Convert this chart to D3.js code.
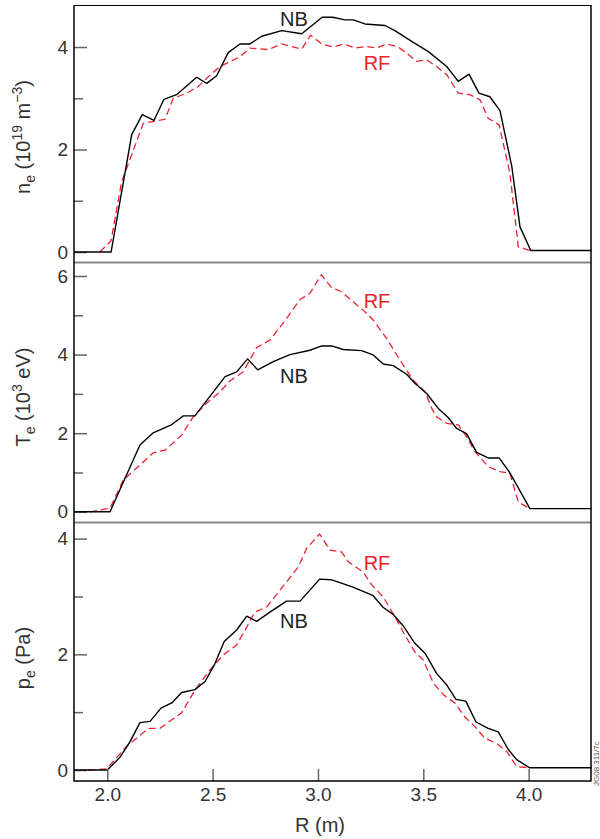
<!DOCTYPE html>
<html><head><meta charset="utf-8">
<script src="https://cdn.jsdelivr.net/npm/d3@7"></script>
<style>
html,body{margin:0;padding:0;background:#fff;}
svg{display:block;font-family:"Liberation Sans",Arial,Helvetica,sans-serif;}
</style></head>
<body><svg id="c" width="600" height="839"></svg>
<script>
// ---- data (R in m) ----
const neNB_R = [1.842,2.018,2.116,2.166,2.222,2.269,2.329,2.424,2.472,2.519,2.574,2.63,2.677,2.733,2.828,2.923,3.02,3.07,3.128,3.168,3.223,3.318,3.365,3.445,3.524,3.611,3.666,3.717,3.764,3.816,3.864,3.92,3.959,4.01,4.3];
const neNB   = [0,0,2.29,2.68,2.57,2.98,3.07,3.41,3.29,3.44,3.89,4.06,4.06,4.21,4.32,4.26,4.58,4.58,4.53,4.53,4.45,4.42,4.32,4.11,3.91,3.62,3.33,3.47,3.10,3.03,2.76,1.67,0.49,0.03,0.03];
const neRF_R = [1.965,2.018,2.068,2.171,2.274,2.313,2.377,2.432,2.472,2.535,2.63,2.677,2.764,2.828,2.923,2.965,3.018,3.073,3.12,3.176,3.231,3.279,3.326,3.381,3.421,3.468,3.516,3.563,3.611,3.666,3.721,3.769,3.808,3.86,3.911,3.951,4.006];
const neRF   = [0,0.22,1.37,2.51,2.59,3.0,3.10,3.23,3.39,3.62,3.81,3.98,3.95,4.06,3.96,4.23,4.06,4.0,4.06,3.98,4.01,3.98,4.06,4.0,3.88,3.72,3.75,3.62,3.46,3.10,3.07,2.97,2.61,2.48,1.54,0.10,0.03];

const TeNB_R = [1.842,2.013,2.155,2.218,2.306,2.361,2.416,2.559,2.614,2.666,2.714,2.788,2.867,2.962,3.018,3.065,3.12,3.207,3.262,3.31,3.357,3.421,3.46,3.516,3.571,3.618,3.658,3.705,3.753,3.808,3.86,3.911,4.006,4.3];
const TeNB   = [0,0,1.70,2.01,2.22,2.44,2.44,3.44,3.56,3.89,3.61,3.82,4.0,4.11,4.22,4.22,4.13,4.10,3.99,3.76,3.72,3.50,3.27,3.01,2.63,2.40,2.12,1.99,1.51,1.37,1.37,0.99,0.08,0.08];
const TeRF_R = [1.918,2.013,2.076,2.147,2.218,2.274,2.353,2.408,2.479,2.535,2.582,2.645,2.709,2.772,2.851,2.915,2.962,3.016,3.065,3.112,3.168,3.215,3.262,3.326,3.389,3.452,3.508,3.54,3.563,3.611,3.666,3.705,3.745,3.808,3.864,3.911,3.951,4.006];
const TeRF   = [0,0.09,0.81,1.15,1.50,1.57,1.95,2.42,2.80,3.05,3.33,3.56,4.18,4.37,4.92,5.40,5.56,6.03,5.70,5.60,5.34,5.13,4.88,4.41,3.86,3.35,3.05,2.63,2.42,2.25,2.21,1.91,1.53,1.15,1.02,0.98,0.25,0.08];

const peNB_R = [1.842,2.0,2.06,2.108,2.155,2.203,2.255,2.306,2.353,2.416,2.464,2.511,2.555,2.614,2.662,2.709,2.772,2.851,2.915,3.008,3.062,3.16,3.26,3.31,3.357,3.405,3.46,3.508,3.563,3.611,3.655,3.702,3.75,3.808,3.856,3.904,3.943,4.003,4.3];
const peNB   = [0,0,0.22,0.49,0.82,0.84,1.07,1.16,1.34,1.39,1.53,1.84,2.22,2.42,2.66,2.57,2.73,2.92,2.92,3.30,3.29,3.17,3.02,2.81,2.69,2.49,2.19,2.02,1.67,1.47,1.22,1.19,0.83,0.72,0.66,0.35,0.18,0.04,0.04];
const peRF_R = [1.91,1.997,2.092,2.195,2.25,2.353,2.416,2.487,2.551,2.614,2.662,2.701,2.757,2.82,2.907,2.946,3.008,3.057,3.112,3.144,3.215,3.255,3.31,3.365,3.413,3.46,3.5,3.548,3.596,3.65,3.697,3.745,3.792,3.848,3.896,3.943,3.998];
const peRF   = [0,0.02,0.41,0.72,0.72,0.99,1.38,1.73,1.99,2.16,2.47,2.73,2.82,3.11,3.51,3.83,4.08,3.80,3.77,3.60,3.42,3.20,2.99,2.65,2.33,2.04,1.90,1.50,1.30,1.16,0.92,0.75,0.55,0.46,0.32,0.06,0.04];

const xTicks = [2.0,2.5,3.0,3.5,4.0];
const neTicks = [0,2,4], neMinor = [1,3];
const TeTicks = [0,2,4,6], TeMinor = [1,3,5];
const peTicks = [0,2,4], peMinor = [1,3];
const seriesNames = ["NB","RF"];

// ---- layout ----
const svg = d3.select("#c");
const L = 74, Rr = 591;
const x = d3.scaleLinear().domain([1.842, 4.296]).range([L, Rr]);
const panels = [
  {top:5,   bot:262, dom:[-0.195,4.82], nb:[neNB_R,neNB], rf:[neRF_R,neRF], ticks:neTicks, minor:neMinor, cy:137, lbl:"ne",
   nbPos:[294,26], rfPos:[377,70]},
  {top:263, bot:522, dom:[-0.26,6.33], nb:[TeNB_R,TeNB], rf:[TeRF_R,TeRF], ticks:TeTicks, minor:TeMinor, cy:397, lbl:"Te",
   nbPos:[294,383], rfPos:[377,308]},
  {top:523, bot:781, dom:[-0.19,4.27], nb:[peNB_R,peNB], rf:[peRF_R,peRF], ticks:peTicks, minor:peMinor, cy:658, lbl:"pe",
   nbPos:[294,628], rfPos:[377,570]}
];
const RED = "#e8232f";

panels.forEach((p,i) => {
  const y = d3.scaleLinear().domain(p.dom).range([p.bot, p.top]);
  const g = svg.append("g");
  // major ticks
  const ax = g.append("g").attr("transform",`translate(${L},0)`)
    .call(d3.axisLeft(y).tickValues(p.ticks).tickSizeInner(-13).tickSizeOuter(0).tickPadding(6).tickFormat(d3.format("d")));
  ax.select(".domain").remove();
  ax.selectAll("line").attr("stroke","#666").attr("stroke-width",1.5);
  ax.selectAll("text").attr("font-size",19).attr("fill","#333").attr("font-family",'"Liberation Sans",Arial,sans-serif');
  const mi = g.append("g").attr("transform",`translate(${L},0)`)
    .call(d3.axisLeft(y).tickValues(p.minor).tickSizeInner(-9).tickSizeOuter(0).tickFormat(""));
  mi.select(".domain").remove();
  mi.selectAll("line").attr("stroke","#666").attr("stroke-width",1.5);

  const line = d3.line().x(d=>x(d[0])).y(d=>y(d[1]));
  const rfData = d3.zip(p.rf[0], p.rf[1]);
  const nbData = d3.zip(p.nb[0], p.nb[1]);
  g.append("path").attr("d", line(rfData)).attr("fill","none").attr("stroke",RED)
    .attr("stroke-width",1.3).attr("stroke-dasharray","7,4");
  g.append("path").attr("d", line(nbData)).attr("fill","none").attr("stroke","#000")
    .attr("stroke-width",1.4).attr("stroke-linejoin","round");

  g.append("text").attr("x",p.nbPos[0]).attr("y",p.nbPos[1]).attr("text-anchor","middle")
    .attr("font-size",20).attr("fill","#222").text(seriesNames[0]);
  g.append("text").attr("x",p.rfPos[0]).attr("y",p.rfPos[1]).attr("text-anchor","middle")
    .attr("font-size",20).attr("fill",RED).text(seriesNames[1]);

  // y title
  const t = svg.append("text").attr("transform",`translate(30,${p.cy}) rotate(-90)`)
    .attr("text-anchor","middle").attr("font-size",20).attr("fill","#333");
  if (i===0) {
    t.append("tspan").text("n");
    t.append("tspan").attr("font-size",14).attr("dy",5).text("e");
    t.append("tspan").attr("dy",-5).text(" (10");
    t.append("tspan").attr("font-size",14).attr("dy",-8).text("19");
    t.append("tspan").attr("dy",8).text(" m");
    t.append("tspan").attr("font-size",14).attr("dy",-8).text("\u22123");
    t.append("tspan").attr("dy",8).text(")");
  } else if (i===1) {
    t.append("tspan").text("T");
    t.append("tspan").attr("font-size",14).attr("dy",5).text("e");
    t.append("tspan").attr("dy",-5).text(" (10");
    t.append("tspan").attr("font-size",14).attr("dy",-8).text("3");
    t.append("tspan").attr("dy",8).text(" eV)");
  } else {
    t.append("tspan").text("p");
    t.append("tspan").attr("font-size",14).attr("dy",5).text("e");
    t.append("tspan").attr("dy",-5).text(" (Pa)");
  }
});

// x axis
const xa = svg.append("g").attr("transform",`translate(0,781)`)
  .call(d3.axisBottom(x).tickValues(xTicks).tickSizeInner(-12).tickSizeOuter(0).tickPadding(7).tickFormat(d3.format(".1f")));
xa.select(".domain").remove();
xa.selectAll("line").attr("stroke","#666").attr("stroke-width",1.5);
xa.selectAll("text").attr("font-size",19).attr("fill","#333").attr("font-family",'"Liberation Sans",Arial,sans-serif');
svg.append("text").attr("x",320).attr("y",832).attr("text-anchor","middle")
  .attr("font-size",20).attr("fill","#333").text("R (m)");

// frame
svg.append("line").attr("x1",L).attr("x2",Rr).attr("y1",5.5).attr("y2",5.5).attr("stroke","#000").attr("stroke-width",1.2);
svg.append("line").attr("x1",L).attr("x2",Rr).attr("y1",262.5).attr("y2",262.5).attr("stroke","#888").attr("stroke-width",2);
svg.append("line").attr("x1",L).attr("x2",Rr).attr("y1",522.5).attr("y2",522.5).attr("stroke","#888").attr("stroke-width",2);
svg.append("line").attr("x1",L).attr("x2",Rr).attr("y1",781).attr("y2",781).attr("stroke","#000").attr("stroke-width",1.5);
svg.append("line").attr("x1",L).attr("x2",L).attr("y1",5).attr("y2",781.5).attr("stroke","#000").attr("stroke-width",1.5);
svg.append("line").attr("x1",Rr).attr("x2",Rr).attr("y1",5).attr("y2",781.5).attr("stroke","#000").attr("stroke-width",1.5);

// figure id at right edge
svg.append("text").attr("transform","translate(599,786) rotate(-90)")
  .attr("font-size",8).attr("fill","#555").text("JG08.311/7c");
</script></body></html>
